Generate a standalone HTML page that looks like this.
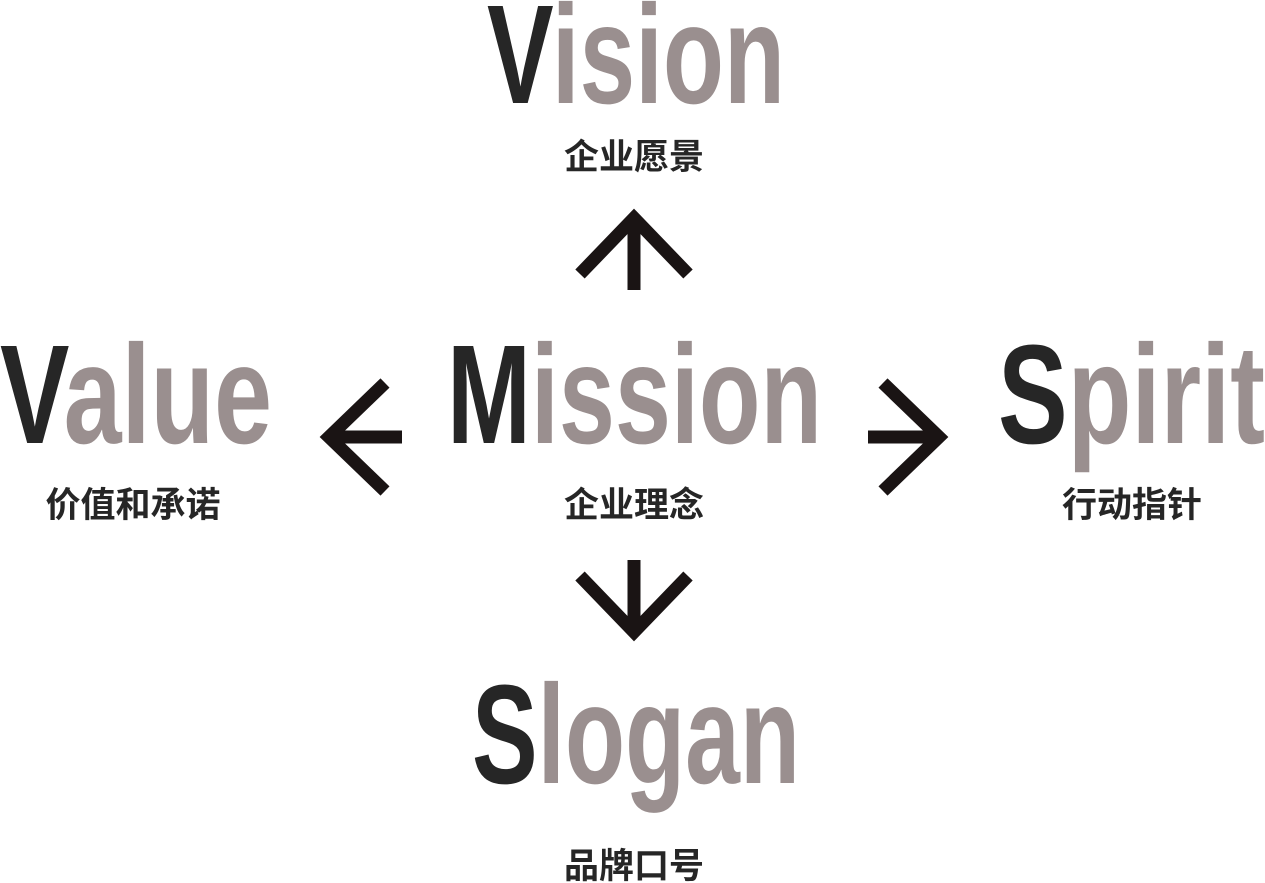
<!DOCTYPE html>
<html><head><meta charset="utf-8"><style>
html,body{margin:0;padding:0;background:#fff;}
svg{display:block;}
.big{font-family:"Liberation Sans",sans-serif;font-weight:bold;font-size:141px;}
.cn{font-family:"Liberation Sans","Noto Sans CJK SC",sans-serif;font-weight:bold;font-size:35px;fill:#262626;}
.d{fill:#262626}.g{fill:#9a8f8f}
</style></head><body>
<svg width="1265" height="883" viewBox="0 0 1265 883" xmlns="http://www.w3.org/2000/svg">
<text class="big" x="487" y="103" textLength="298" lengthAdjust="spacingAndGlyphs"><tspan class="d">V</tspan><tspan class="g">ision</tspan></text>
<text class="big" x="447" y="443" textLength="375" lengthAdjust="spacingAndGlyphs"><tspan class="d">M</tspan><tspan class="g">ission</tspan></text>
<text class="big" x="0" y="443" textLength="272" lengthAdjust="spacingAndGlyphs"><tspan class="d">V</tspan><tspan class="g">alue</tspan></text>
<text class="big" x="998" y="443" textLength="267" lengthAdjust="spacingAndGlyphs"><tspan class="d">S</tspan><tspan class="g">pirit</tspan></text>
<text class="big" x="472" y="783" textLength="328" lengthAdjust="spacingAndGlyphs"><tspan class="d">S</tspan><tspan class="g">logan</tspan></text>
<text class="cn" x="634" y="169" text-anchor="middle">企业愿景</text>
<text class="cn" x="634" y="517" text-anchor="middle">企业理念</text>
<text class="cn" x="133" y="517" text-anchor="middle">价值和承诺</text>
<text class="cn" x="1132" y="517" text-anchor="middle">行动指针</text>
<text class="cn" x="634" y="878" text-anchor="middle">品牌口号</text>
<g stroke="#1a1414" stroke-width="13" fill="none" stroke-linecap="butt" stroke-linejoin="miter">
<polyline points="580,274 634,218 688,274"/><line x1="634" y1="216" x2="634" y2="290"/>
<polyline points="385,383 329,437 385,491"/><line x1="327" y1="437" x2="402" y2="437"/>
<polyline points="883,383 939,437 883,491"/><line x1="868" y1="437" x2="941" y2="437"/>
<polyline points="580,576 634,632 688,576"/><line x1="634" y1="560" x2="634" y2="634"/>
</g>
</svg>
</body></html>
